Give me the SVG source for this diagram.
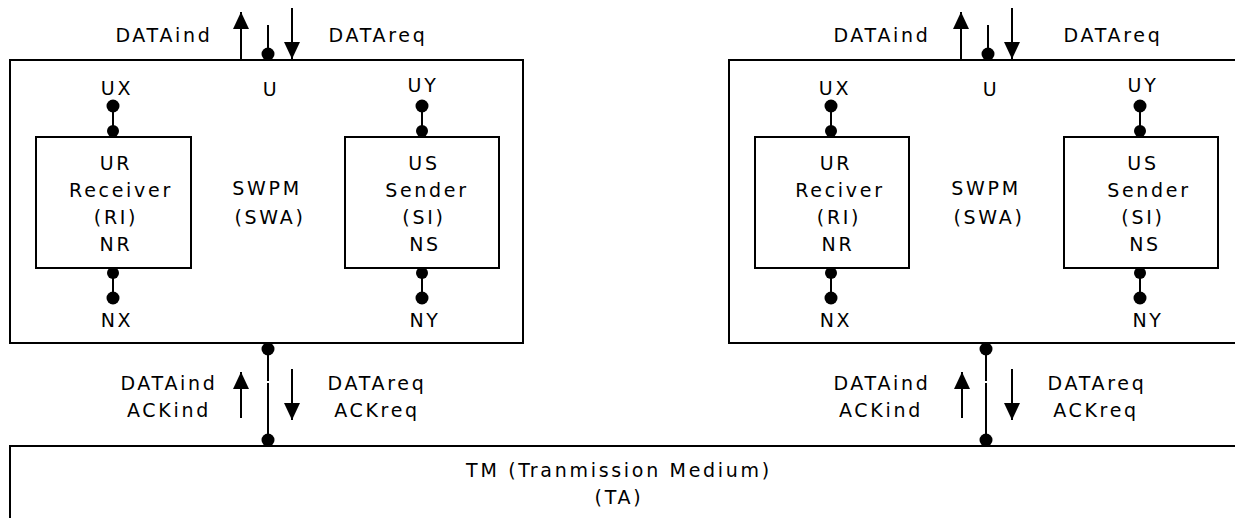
<svg xmlns="http://www.w3.org/2000/svg" width="1235" height="518" viewBox="0 0 1235 518">
  <style>
    .box { fill: #ffffff; stroke: #000000; stroke-width: 2; }
    .wire { stroke: #000000; stroke-width: 2; fill: none; }
    .dot { fill: #000000; }
    text { font-family: "DejaVu Sans", "Liberation Sans", sans-serif; font-size: 19px; letter-spacing: 2.7px; fill: #000000; text-anchor: middle; }
  </style>
  <defs>
    <marker id="head" markerUnits="userSpaceOnUse" markerWidth="18" markerHeight="18" viewBox="0 0 18 18" refX="17" refY="9" orient="auto">
      <path d="M0,1 L17,9 L0,17 z" fill="#000000"/>
    </marker>
  </defs>

  <rect width="1235" height="518" fill="#ffffff"/>

  <!-- transmission medium -->
  <g id="tm">
    <rect class="box" x="10" y="446" width="1240" height="100"/>
    <text x="619" y="477">TM (Tranmission Medium)</text>
    <text x="619" y="504">(TA)</text>
  </g>

  <!-- left protocol machine -->
  <g id="swpm-left">
    <rect class="box" x="10" y="60" width="513" height="283"/>
    <text x="271" y="96">U</text>
    <text x="117" y="95">UX</text>
    <text x="423" y="92">UY</text>
    <text x="267" y="195">SWPM</text>
    <text x="270" y="224">(SWA)</text>
    <text x="117" y="327">NX</text>
    <text x="425" y="327">NY</text>
  </g>
  <g id="ur-left">
    <rect class="box" x="36" y="137" width="155" height="131"/>
    <text x="116" y="170">UR</text>
    <text x="121" y="197">Receiver</text>
    <text x="116" y="224">(RI)</text>
    <text x="116" y="251">NR</text>
  </g>
  <g id="us-left">
    <rect class="box" x="345" y="137" width="154" height="131"/>
    <text x="424" y="170">US</text>
    <text x="427" y="197">Sender</text>
    <text x="424" y="224">(SI)</text>
    <text x="425" y="251">NS</text>
  </g>

  <!-- right protocol machine -->
  <g id="swpm-right">
    <rect class="box" x="729" y="60" width="513" height="283"/>
    <text x="991" y="96">U</text>
    <text x="835" y="95">UX</text>
    <text x="1143" y="92">UY</text>
    <text x="986" y="195">SWPM</text>
    <text x="989" y="224">(SWA)</text>
    <text x="836" y="327">NX</text>
    <text x="1148" y="327">NY</text>
  </g>
  <g id="ur-right">
    <rect class="box" x="755" y="137" width="154" height="131"/>
    <text x="836" y="170">UR</text>
    <text x="840" y="197">Reciver</text>
    <text x="839" y="224">(RI)</text>
    <text x="838" y="251">NR</text>
  </g>
  <g id="us-right">
    <rect class="box" x="1064" y="137" width="154" height="131"/>
    <text x="1143" y="170">US</text>
    <text x="1149" y="197">Sender</text>
    <text x="1143" y="224">(SI)</text>
    <text x="1145" y="251">NS</text>
  </g>

  <!-- signal labels -->
  <g id="labels">
    <text x="164" y="42">DATAind</text>
    <text x="378" y="42">DATAreq</text>
    <text x="169" y="390">DATAind</text>
    <text x="169" y="417">ACKind</text>
    <text x="377" y="390">DATAreq</text>
    <text x="377" y="417">ACKreq</text>

    <text x="882" y="42">DATAind</text>
    <text x="1113" y="42">DATAreq</text>
    <text x="882" y="390">DATAind</text>
    <text x="881" y="417">ACKind</text>
    <text x="1097" y="390">DATAreq</text>
    <text x="1096" y="417">ACKreq</text>
  </g>

  <!-- connectors: ports, channels and signal arrows -->
  <g id="connectors">
    <!-- left: top interface U -->
    <line class="wire" x1="241" y1="60" x2="241" y2="12" marker-end="url(#head)"/>
    <line class="wire" x1="268" y1="25" x2="268" y2="60"/>
    <circle class="dot" cx="268" cy="54" r="6.5"/>
    <line class="wire" x1="292" y1="8" x2="292" y2="59" marker-end="url(#head)"/>
    <!-- left: UX / UY ports -->
    <line class="wire" x1="113" y1="106" x2="113" y2="137"/>
    <circle class="dot" cx="113" cy="106" r="6.5"/>
    <circle class="dot" cx="113" cy="131" r="6"/>
    <line class="wire" x1="422" y1="106" x2="422" y2="137"/>
    <circle class="dot" cx="422" cy="106" r="6.5"/>
    <circle class="dot" cx="422" cy="131" r="6"/>
    <!-- left: NX / NY ports -->
    <line class="wire" x1="113" y1="268" x2="113" y2="298"/>
    <circle class="dot" cx="113" cy="273" r="6"/>
    <circle class="dot" cx="113" cy="298" r="6.5"/>
    <line class="wire" x1="422" y1="268" x2="422" y2="298"/>
    <circle class="dot" cx="422" cy="273" r="6"/>
    <circle class="dot" cx="422" cy="298" r="6.5"/>
    <!-- left: channel to TM -->
    <line class="wire" x1="268" y1="343" x2="268" y2="381"/>
    <line class="wire" x1="268" y1="383" x2="268" y2="446"/>
    <circle class="dot" cx="268" cy="349" r="6.5"/>
    <circle class="dot" cx="268" cy="440" r="6.5"/>
    <line class="wire" x1="241" y1="418" x2="241" y2="372" marker-end="url(#head)"/>
    <line class="wire" x1="292" y1="369" x2="292" y2="420" marker-end="url(#head)"/>

    <!-- right: top interface U -->
    <line class="wire" x1="961" y1="60" x2="961" y2="12" marker-end="url(#head)"/>
    <line class="wire" x1="988" y1="25" x2="988" y2="60"/>
    <circle class="dot" cx="988" cy="54" r="6.5"/>
    <line class="wire" x1="1012" y1="8" x2="1012" y2="59" marker-end="url(#head)"/>
    <!-- right: UX / UY ports -->
    <line class="wire" x1="831" y1="106" x2="831" y2="137"/>
    <circle class="dot" cx="831" cy="106" r="6.5"/>
    <circle class="dot" cx="831" cy="131" r="6"/>
    <line class="wire" x1="1140" y1="106" x2="1140" y2="137"/>
    <circle class="dot" cx="1140" cy="106" r="6.5"/>
    <circle class="dot" cx="1140" cy="131" r="6"/>
    <!-- right: NX / NY ports -->
    <line class="wire" x1="831" y1="268" x2="831" y2="298"/>
    <circle class="dot" cx="831" cy="273" r="6"/>
    <circle class="dot" cx="831" cy="298" r="6.5"/>
    <line class="wire" x1="1140" y1="268" x2="1140" y2="298"/>
    <circle class="dot" cx="1140" cy="273" r="6"/>
    <circle class="dot" cx="1140" cy="298" r="6.5"/>
    <!-- right: channel to TM -->
    <line class="wire" x1="986" y1="343" x2="986" y2="381"/>
    <line class="wire" x1="986" y1="383" x2="986" y2="446"/>
    <circle class="dot" cx="986" cy="349" r="6.5"/>
    <circle class="dot" cx="986" cy="440" r="6.5"/>
    <line class="wire" x1="962" y1="418" x2="962" y2="372" marker-end="url(#head)"/>
    <line class="wire" x1="1012" y1="369" x2="1012" y2="420" marker-end="url(#head)"/>
  </g>
</svg>
